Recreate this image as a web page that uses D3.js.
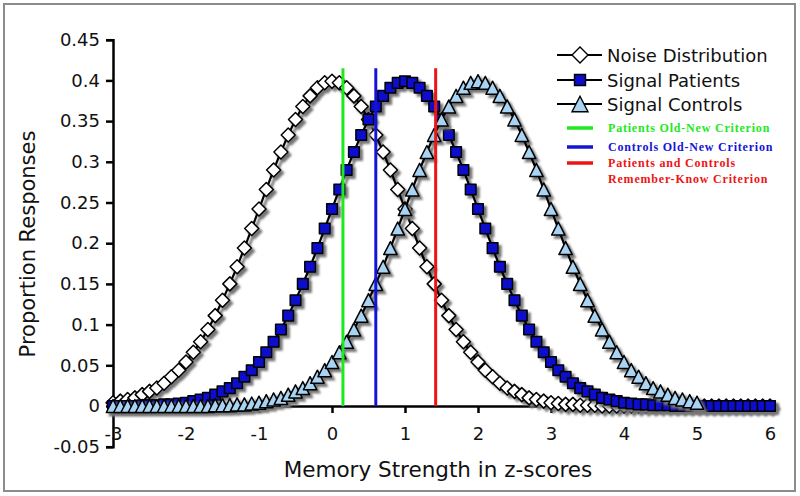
<!DOCTYPE html>
<html>
<head>
<meta charset="utf-8">
<script src="https://cdn.jsdelivr.net/npm/d3@7"></script>
<style>
  body { margin: 0; background: #fff; }
  svg { display: block; }
</style>
</head>
<body>
<div id="chart"></div>
<script>
// Memory strength distributions, one point every 0.1 z from -3 to 6
var zScores = d3.range(-30, 61).map(function(i) { return i / 10; });

var noise = [
  0.004,0.006,0.008,0.010,0.014,0.018,0.022,0.028,0.036,0.044,
  0.054,0.066,0.079,0.094,0.111,0.130,0.150,0.171,0.194,0.218,
  0.242,0.266,0.290,0.312,0.333,0.352,0.368,0.381,0.391,0.397,
  0.399,0.397,0.391,0.381,0.368,0.352,0.333,0.312,0.290,0.266,
  0.242,0.218,0.194,0.171,0.150,0.130,0.111,0.094,0.079,0.066,
  0.054,0.044,0.036,0.028,0.022,0.018,0.014,0.010,0.008,0.006,
  0.004,0.003,0.002,0.002,0.001,0.001,0.001,0,0,0,
  0,0,0,0,0,0,0,0,0,0,
  0,0,0,0,0,0,0,0,0,0,
  0
];

var signalPatients = [
  0,0,0,0,0.001,0.001,0.001,0.002,0.002,0.003,
  0.004,0.006,0.008,0.010,0.014,0.018,0.022,0.028,0.036,0.044,
  0.054,0.066,0.079,0.094,0.111,0.130,0.150,0.171,0.194,0.218,
  0.242,0.266,0.290,0.312,0.333,0.352,0.368,0.381,0.391,0.397,
  0.399,0.397,0.391,0.381,0.368,0.352,0.333,0.312,0.290,0.266,
  0.242,0.218,0.194,0.171,0.150,0.130,0.111,0.094,0.079,0.066,
  0.054,0.044,0.036,0.028,0.022,0.018,0.014,0.010,0.008,0.006,
  0.004,0.003,0.002,0.002,0.001,0.001,0.001,0,0,0,
  0,0,0,0,0,0,0,0,0,0,
  0
];

var signalControls = [
  0,0,0,0,0,0,0,0,0,0,
  0,0,0,0,0.001,0.001,0.001,0.002,0.002,0.003,
  0.004,0.006,0.008,0.010,0.014,0.018,0.022,0.028,0.036,0.044,
  0.054,0.066,0.079,0.094,0.111,0.130,0.150,0.171,0.194,0.218,
  0.242,0.266,0.290,0.312,0.333,0.352,0.368,0.381,0.391,0.397,
  0.399,0.397,0.391,0.381,0.368,0.352,0.333,0.312,0.290,0.266,
  0.242,0.218,0.194,0.171,0.150,0.130,0.111,0.094,0.079,0.066,
  0.054,0.044,0.036,0.028,0.022,0.018,0.014,0.010,0.008,0.006,
  0.004
];

var seriesNames = ["Noise Distribution", "Signal Patients", "Signal Controls"];

// criterion lines (z position) and legend labels
var criteria = [0.15, 0.6, 1.42];
var criterionTop = 0.415;
var criterionLabels = [
  ["Patients Old-New Criterion"],
  ["Controls Old-New Criterion"],
  ["Patients and Controls", "Remember-Know Criterion"]
];

var xTicks = [-3, -2, -1, 0, 1, 2, 3, 4, 5, 6];
var xTickLabels = ["-3", "-2", "-1", "0", "1", "2", "3", "4", "5", "6"];
var yTicks = [-0.05, 0, 0.05, 0.1, 0.15, 0.2, 0.25, 0.3, 0.35, 0.4, 0.45];
var yTickLabels = ["-0.05", "0", "0.05", "0.1", "0.15", "0.2", "0.25", "0.3", "0.35", "0.4", "0.45"];

var width = 800, height = 496;
var svg = d3.select("#chart").append("svg")
  .attr("width", width)
  .attr("height", height);

// outer frame
svg.append("rect")
  .attr("x", 4).attr("y", 4)
  .attr("width", 791).attr("height", 487)
  .attr("fill", "#fff")
  .attr("stroke", "#8c8c8c")
  .attr("stroke-width", 2);

var x = d3.scaleLinear().domain([-3, 6]).range([113, 770]);
var y = d3.scaleLinear().domain([-0.05, 0.45]).range([446.7, 39.7]);

var font = "'DejaVu Sans', Verdana, sans-serif";

// soft drop shadow like the original
var defs = svg.append("defs");
var blur = defs.append("filter").attr("id", "soft")
  .attr("x", "-20%").attr("y", "-20%").attr("width", "140%").attr("height", "140%");
blur.append("feGaussianBlur").attr("stdDeviation", 0.8);

// y axis
var yAxis = svg.append("g")
  .attr("transform", "translate(" + x(-3) + ",0)")
  .call(d3.axisLeft(y).tickValues(yTicks)
    .tickFormat(function(d, i) { return yTickLabels[i]; })
    .tickSize(7).tickPadding(6));
yAxis.select(".domain").attr("stroke", "#000").attr("stroke-width", 2.5);
yAxis.selectAll(".tick line").attr("stroke", "#000").attr("stroke-width", 2.5);
yAxis.selectAll("text").attr("font-family", font).attr("font-size", 18).attr("fill", "#111");

// x axis sits on y = 0
var xAxis = svg.append("g")
  .attr("transform", "translate(0," + y(0) + ")")
  .call(d3.axisBottom(x).tickValues(xTicks)
    .tickFormat(function(d, i) { return xTickLabels[i]; })
    .tickSize(7).tickSizeOuter(0).tickPadding(14));
xAxis.select(".domain").attr("stroke", "#000").attr("stroke-width", 2.5);
xAxis.selectAll(".tick line").attr("stroke", "#000").attr("stroke-width", 2.5);
xAxis.selectAll("text").attr("font-family", font).attr("font-size", 18).attr("fill", "#111");

// axis titles
svg.append("text")
  .attr("x", 438).attr("y", 477)
  .attr("text-anchor", "middle")
  .attr("font-family", font).attr("font-size", 21.5)
  .attr("fill", "#111")
  .text("Memory Strength in z-scores");

svg.append("text")
  .attr("transform", "translate(35,244) rotate(-90)")
  .attr("text-anchor", "middle")
  .attr("font-family", font).attr("font-size", 21)
  .attr("fill", "#111")
  .text("Proportion Responses");

// marker shapes, all centred on their bounding box
function diamondPath(r) {
  return "M0," + (-r) + "L" + r + ",0L0," + r + "L" + (-r) + ",0Z";
}
function squarePath(r) {
  return "M" + (-r) + "," + (-r) + "h" + (2 * r) + "v" + (2 * r) + "h" + (-2 * r) + "Z";
}
function trianglePath(r) {
  var h = r * 1.95;
  return "M0," + (-h / 2) + "L" + r + "," + (h / 2) + "L" + (-r) + "," + (h / 2) + "Z";
}

var series = [
  { values: noise, path: diamondPath(7), fill: "#ffffff" },
  { values: signalPatients, path: squarePath(5.3), fill: "#0d0dcc" },
  { values: signalControls, path: trianglePath(6.7), fill: "#a9d3f2" }
];

var line = d3.line()
  .x(function(d, i) { return x(zScores[i]); })
  .y(function(d) { return y(d); });

// each series: gray shadow first, then the black line and markers
series.forEach(function(s) {
  var shadow = svg.append("g")
    .attr("transform", "translate(3,3)")
    .attr("filter", "url(#soft)");
  shadow.append("path")
    .attr("d", line(s.values))
    .attr("fill", "none")
    .attr("stroke", "#6e6e6e")
    .attr("stroke-width", 2.5);
  shadow.selectAll("path.m")
    .data(s.values)
    .enter().append("path")
    .attr("class", "m")
    .attr("d", s.path)
    .attr("transform", function(d, i) { return "translate(" + x(zScores[i]) + "," + y(d) + ")"; })
    .attr("fill", "#767676")
    .attr("stroke", "#767676")
    .attr("stroke-width", 1.5);

  var g = svg.append("g");
  g.append("path")
    .attr("d", line(s.values))
    .attr("fill", "none")
    .attr("stroke", "#000")
    .attr("stroke-width", 2.2);
  g.selectAll("path.m")
    .data(s.values)
    .enter().append("path")
    .attr("class", "m")
    .attr("d", s.path)
    .attr("transform", function(d, i) { return "translate(" + x(zScores[i]) + "," + y(d) + ")"; })
    .attr("fill", s.fill)
    .attr("stroke", "#000")
    .attr("stroke-width", 1.5)
    .attr("stroke-linejoin", "round");
});

// criterion lines
var criterionColors = ["#1ee81e", "#1414d8", "#ee1414"];
svg.selectAll("line.crit")
  .data(criteria)
  .enter().append("line")
  .attr("class", "crit")
  .attr("x1", function(d) { return x(d); })
  .attr("x2", function(d) { return x(d); })
  .attr("y1", y(0))
  .attr("y2", y(criterionTop))
  .attr("stroke", function(d, i) { return criterionColors[i]; })
  .attr("stroke-width", 3);

// legend for the three series
var legend = svg.append("g");
var legendY = [55, 80, 104];
var legendPaths = [diamondPath(8), squarePath(5.5), trianglePath(8)];
seriesNames.forEach(function(name, i) {
  legend.append("line")
    .attr("x1", 557).attr("x2", 602)
    .attr("y1", legendY[i]).attr("y2", legendY[i])
    .attr("stroke", "#000").attr("stroke-width", 2.2);
  legend.append("path")
    .attr("d", legendPaths[i])
    .attr("transform", "translate(580," + legendY[i] + ")")
    .attr("fill", series[i].fill)
    .attr("stroke", "#000").attr("stroke-width", 1.4);
  legend.append("text")
    .attr("x", 607).attr("y", legendY[i] + 7)
    .attr("font-family", font).attr("font-size", 18)
    .attr("fill", "#111")
    .text(name);
});

// legend for the criterion lines
var critY = [128, 147, 163];
criterionLabels.forEach(function(lines, i) {
  legend.append("line")
    .attr("x1", 567).attr("x2", 593)
    .attr("y1", critY[i]).attr("y2", critY[i])
    .attr("stroke", criterionColors[i]).attr("stroke-width", 3.5);
  lines.forEach(function(t, j) {
    legend.append("text")
      .attr("x", 608).attr("y", critY[i] + 4 + j * 16)
      .attr("font-family", "'Liberation Serif', 'Times New Roman', serif")
      .attr("font-weight", "bold")
      .attr("font-size", 12)
      .attr("letter-spacing", 0.8)
      .attr("fill", criterionColors[i])
      .text(t);
  });
});
</script>
</body>
</html>
